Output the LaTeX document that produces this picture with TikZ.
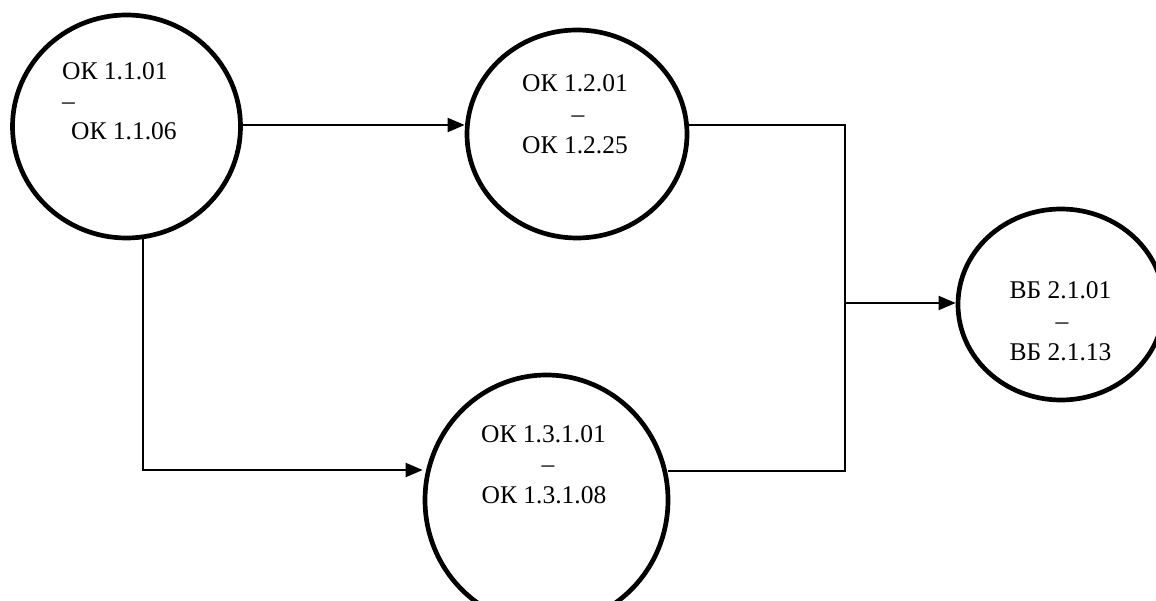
\documentclass[tikz,border=0pt]{standalone}
\usepackage{fontspec}
\setmainfont{Liberation Serif}
\usetikzlibrary{shapes.geometric,arrows.meta}
\tikzset{
  ring/.style={ellipse, draw=black, line width=4.7pt, inner sep=0pt, fill=white},
  txt/.style={inner sep=0pt, font=\fontsize{25.5}{30}\selectfont},
  conn/.style={line width=2pt, draw=black},
  arr/.style={conn, -{Triangle[length=17pt,width=14pt]}}
}
\begin{document}
\begin{tikzpicture}[x=1pt,y=-1pt]
\useasboundingbox (0,0) rectangle (1156,601);
\fill[white] (0,0) rectangle (1156,601);
\clip (0,0) rectangle (1156,601);

% circles
\node[ring, minimum width=228pt, minimum height=223pt] (c1) at (126.5,126.5) {};
\node[ring, minimum width=220pt, minimum height=208pt] (c2) at (577,134) {};
\node[ring, minimum width=243pt, minimum height=250pt] (c3) at (546.5,500) {};
\node[ring, minimum width=206pt, minimum height=191pt] (c4) at (1061,304.5) {};

% labels
\node[txt, anchor=base west] (t1a) at (62,80) {ОК 1.1.01};
\node[txt, anchor=base west] (t1b) at (62,110) {–};
\node[txt, anchor=base west] (t1c) at (71,140) {ОК 1.1.06};

\node[txt, anchor=base] (t2a) at (575,92) {ОК 1.2.01};
\node[txt, anchor=base] (t2b) at (578,123) {–};
\node[txt, anchor=base] (t2c) at (575,154) {ОК 1.2.25};

\node[txt, anchor=base] (t3a) at (543.5,442) {ОК 1.3.1.01};
\node[txt, anchor=base] (t3b) at (548,472) {–};
\node[txt, anchor=base] (t3c) at (544,503) {ОК 1.3.1.08};

\node[txt, anchor=base] (t4a) at (1060.5,299) {ВБ 2.1.01};
\node[txt, anchor=base] (t4b) at (1062,330) {–};
\node[txt, anchor=base] (t4c) at (1060.5,360) {ВБ 2.1.13};

% junction coordinates
\coordinate (y1) at (0,125);
\coordinate (j1) at (143,470);
\coordinate (j2) at (845,125);
\coordinate (j3) at (845,471);
\coordinate (j4) at (845,303);

% connectors
\draw[arr] (c1.east |- y1) -- (c2.west |- y1);
\draw[arr] (c1.-81.5 -| j1) -- (j1) -- (c3.west |- j1);
\draw[conn] (c2.east |- j2) -- (j2) -- (j3) -- ([xshift=-2pt]c3.east |- j3);
\draw[arr] (j4) -- (c4.west |- j4);
\end{tikzpicture}
\end{document}
